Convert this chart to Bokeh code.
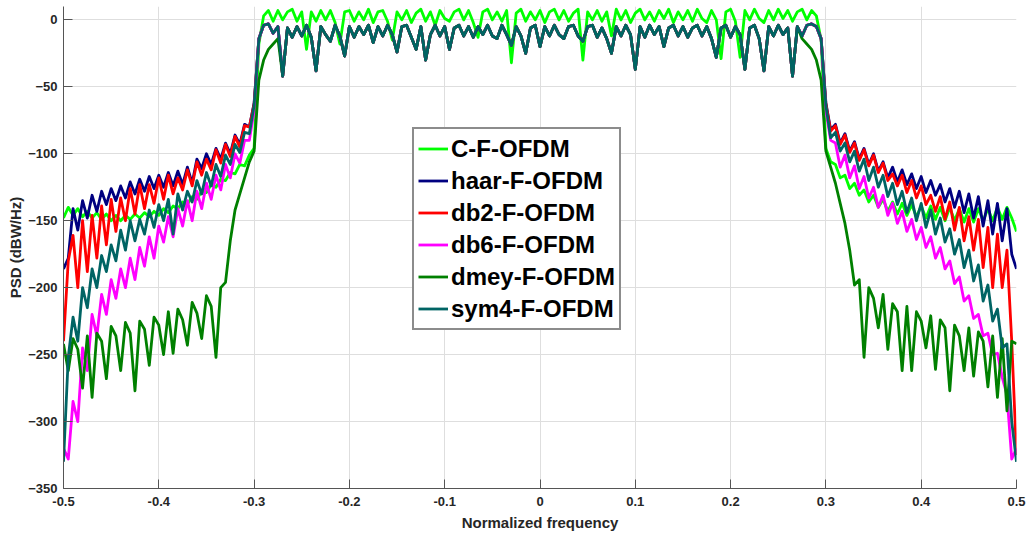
from bokeh.plotting import figure
from bokeh.models import Range1d, FixedTicker
from bokeh.embed import file_html
from bokeh.resources import INLINE

# ---------------- data ----------------
# frequency grid: skirts -0.5..-0.3 and 0.3..0.5 (41 pts each), passband -0.295..0.295 (119 pts)
freq_left = [round(-0.5 + 0.005 * i, 3) for i in range(41)]
freq_pass = [round(-0.295 + 0.005 * i, 3) for i in range(119)]
freq_right = [round(0.3 + 0.005 * i, 3) for i in range(41)]

series_names = ["C-F-OFDM", "haar-F-OFDM", "db2-F-OFDM", "db6-F-OFDM", "dmey-F-OFDM", "sym4-F-OFDM"]
series_colors = ["#00ff00", "#000080", "#ff0000", "#ff00ff", "#008000", "#006464"]

x_ticks = [-0.5, -0.4, -0.3, -0.2, -0.1, 0, 0.1, 0.2, 0.3, 0.4, 0.5]
x_tick_labels = ["-0.5", "-0.4", "-0.3", "-0.2", "-0.1", "0", "0.1", "0.2", "0.3", "0.4", "0.5"]
y_ticks = [-350, -300, -250, -200, -150, -100, -50, 0]

# C-F-OFDM
cf_left = [-148, -140, -146, -141, -147, -143, -148, -144, -149, -145, -150, -146, -150, -146, -149, -145,
           -148, -144, -147, -143, -146, -141, -144, -139, -141, -136, -138, -132, -134, -128, -129, -123,
           -125, -119, -120, -114, -115, -108, -109, -101, -96]
cf_pass = [-18, 3, 7, -1, 7, 0, 6, 8, -1, 6,
           -22, 6, -1, 7, 0, 7, -2, -18, 6, 7,
           -1, 6, 0, 8, -2, 6, 7, -1, -15, 6,
           0, 7, -2, 5, 8, -1, 6, -4, 7, 1,
           -1, 6, 8, 0, 7, -2, -13, 6, 8, 0,
           6, -1, 7, -32, 5, 8, -1, 6, 0, 7,
           -2, 6, 8, 0, 7, -1, 5, 8, -30, 6,
           0, 7, -1, 6, -12, 8, 0, 7, -2, 5,
           8, 0, 6, -1, 7, 1, 8, -2, 6, 0,
           7, -1, 8, 1, -2, 7, 0, -29, 6, 8,
           -1, -28, 7, 0, 8, 1, -2, 7, 0, 8,
           1, 7, -1, 6, 8, 0, 7, 3, -15]
cf_right = [-96, -106, -108, -118, -116, -126, -122, -131, -127, -136, -131, -140, -134, -143, -136, -145,
            -137, -146, -138, -147, -139, -148, -139, -149, -140, -150, -140, -150, -141, -151, -141, -151,
            -141, -150, -141, -150, -140, -149, -140, -148, -158]

# passband shared by the wavelet-based variants (sym4 drawn on top)
wavelet_pass = [-14, -4, -3, -10, -5, -42, -6, -13, -5, -12,
                -4, -13, -38, -5, -11, -16, -4, -12, -27, -5,
                -13, -5, -11, -4, -17, -5, -12, -4, -11, -24,
                -5, -4, -13, -22, -5, -30, -11, -4, -12, -5,
                -22, -6, -4, -12, -5, -13, -5, -11, -4, -12,
                -14, -4, -11, -19, -5, -12, -25, -6, -4, -20,
                -5, -12, -4, -11, -14, -5, -4, -12, -16, -5,
                -4, -13, -6, -14, -25, -5, -12, -4, -11, -37,
                -5, -13, -4, -11, -5, -20, -6, -4, -12, -5,
                -13, -6, -4, -12, -5, -14, -28, -6, -4, -13,
                -5, -11, -37, -6, -4, -14, -38, -5, -12, -4,
                -11, -6, -42, -5, -12, -4, -3, -5, -14]
dmey_pass_edge_left = [-45, -30, -22, -18, -14]
dmey_pass_edge_right = [-14, -18, -22, -30, -45]

haar_left = [-186, -178, -141, -157, -135, -148, -131, -143, -128, -138, -126, -135, -124, -133, -121, -130,
             -119, -128, -117, -126, -116, -125, -114, -124, -113, -123, -110, -122, -104, -111, -100, -108,
             -96, -104, -92, -100, -86, -93, -78, -80, -62]
haar_right = [-62, -82, -78, -92, -85, -98, -91, -104, -96, -108, -100, -113, -106, -118, -110, -121,
              -112, -123, -115, -126, -117, -129, -120, -131, -123, -136, -126, -140, -128, -144, -130, -148,
              -132, -154, -135, -160, -137, -165, -141, -175, -186]

db2_left = [-240, -180, -161, -200, -150, -188, -146, -178, -139, -168, -134, -158, -133, -150, -126, -145,
            -123, -141, -123, -137, -118, -134, -116, -130, -118, -127, -112, -124, -106, -116, -104, -112,
            -97, -107, -93, -102, -87, -95, -79, -80, -63]
db2_right = [-63, -83, -79, -93, -86, -99, -92, -105, -97, -109, -101, -114, -107, -120, -115, -124,
             -116, -129, -120, -133, -124, -138, -131, -143, -132, -149, -136, -157, -140, -165, -147, -172,
             -149, -185, -155, -200, -160, -200, -172, -240, -325]

db6_left = [-320, -328, -285, -300, -245, -262, -220, -236, -205, -220, -194, -208, -186, -200, -178, -194,
            -170, -184, -162, -178, -154, -166, -147, -162, -141, -154, -135, -150, -128, -141, -122, -134,
            -116, -127, -108, -118, -100, -107, -90, -90, -68]
db6_right = [-68, -90, -92, -110, -101, -118, -109, -126, -117, -133, -125, -140, -131, -146, -137, -152,
             -143, -158, -149, -164, -155, -170, -162, -178, -170, -186, -180, -197, -192, -210, -206, -223,
             -220, -236, -234, -250, -249, -267, -280, -328, -320]

dmey_left = [-242, -262, -238, -246, -275, -236, -282, -234, -240, -268, -229, -236, -262, -226, -234, -277,
             -225, -231, -258, -222, -228, -250, -218, -249, -216, -224, -243, -211, -219, -238, -206, -214,
             -252, -200, -196, -165, -142, -130, -118, -106, -98]
dmey_right = [-98, -110, -122, -137, -152, -172, -198, -194, -252, -200, -208, -230, -205, -246, -212, -218,
              -262, -214, -262, -218, -225, -245, -221, -261, -224, -230, -277, -228, -236, -262, -230, -266,
              -233, -240, -274, -236, -282, -238, -292, -240, -242]

sym4_left = [-330, -252, -222, -240, -200, -215, -186, -200, -176, -188, -168, -180, -157, -172, -150, -165,
             -149, -160, -142, -155, -138, -150, -134, -160, -130, -142, -128, -136, -120, -130, -114, -124,
             -108, -117, -101, -108, -93, -99, -84, -85, -64]
sym4_right = [-64, -88, -84, -98, -92, -106, -98, -113, -104, -120, -110, -125, -116, -132, -122, -138,
              -128, -144, -133, -150, -137, -155, -142, -160, -148, -166, -156, -175, -164, -185, -172, -195,
              -183, -210, -198, -225, -216, -245, -242, -300, -330]

# ---------------- assemble ----------------
freq = freq_left + freq_pass + freq_right
dmey_pass = dmey_pass_edge_left + wavelet_pass[5:-5] + dmey_pass_edge_right
series_values = [
    cf_left + cf_pass + cf_right,
    haar_left + wavelet_pass + haar_right,
    db2_left + wavelet_pass + db2_right,
    db6_left + wavelet_pass + db6_right,
    dmey_left + dmey_pass + dmey_right,
    sym4_left + wavelet_pass + sym4_right,
]

FONT = "Liberation Sans"
TXT = "#262626"

p = figure(width=1027, height=535, output_backend="svg", toolbar_location=None,
           x_range=Range1d(-0.5, 0.5), y_range=Range1d(-350, 10),
           min_border_left=63, min_border_right=11, min_border_top=6, min_border_bottom=47)
p.outline_line_color = None
p.background_fill_color = "white"
p.border_fill_color = "white"

for name, color, vals in zip(series_names, series_colors, series_values):
    p.line(freq, vals, line_color=color, line_width=2.8, line_join="round", legend_label=name)

p.xaxis.ticker = FixedTicker(ticks=x_ticks)
p.xaxis.major_label_overrides = {t: s for t, s in zip(x_ticks, x_tick_labels)}
p.yaxis.ticker = FixedTicker(ticks=y_ticks)

for ax in (p.xaxis[0], p.yaxis[0]):
    ax.axis_line_color = "#555555"
    ax.axis_line_width = 1
    ax.major_tick_line_color = "#555555"
    ax.major_tick_in = 9
    ax.major_tick_out = 0
    ax.minor_tick_line_color = None
    ax.major_label_text_font = FONT
    ax.major_label_text_font_style = "bold"
    ax.major_label_text_font_size = "13px"
    ax.major_label_text_color = TXT
    ax.axis_label_text_font = FONT
    ax.axis_label_text_font_style = "bold"
    ax.axis_label_text_font_size = "15px"
    ax.axis_label_text_color = TXT

p.xaxis.axis_label = "Normalized frequency"
p.yaxis.axis_label = "PSD (dBW/Hz)"
p.xaxis.major_label_standoff = 8
p.xaxis.axis_label_standoff = 5
p.yaxis.major_label_standoff = 6
p.yaxis.axis_label_standoff = 1

p.xgrid.grid_line_color = "#dedede"
p.ygrid.grid_line_color = "#dedede"
p.xgrid.grid_line_width = 1
p.ygrid.grid_line_width = 1

lg = p.legend[0]
lg.location = (349, 158)
lg.label_text_font = FONT
lg.label_text_font_style = "bold"
lg.label_text_font_size = "24px"
lg.label_text_color = "#000000"
lg.label_height = 31
lg.glyph_height = 31
lg.glyph_width = 30
lg.spacing = 1
lg.padding = 4
lg.margin = 0
lg.label_standoff = 3
lg.border_line_color = "#1a1a1a"
lg.border_line_width = 2
lg.background_fill_color = "white"
lg.background_fill_alpha = 1

open("out.html", "w").write(file_html(p, INLINE))
